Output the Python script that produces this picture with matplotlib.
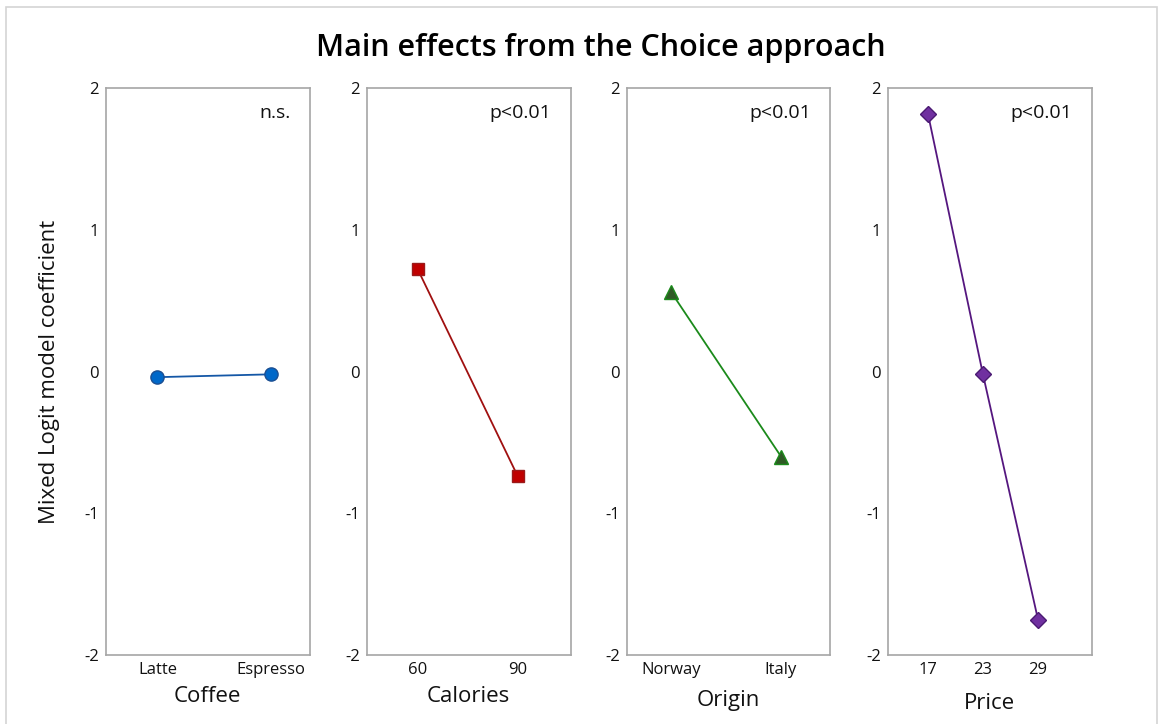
import matplotlib
matplotlib.use("Agg")
import matplotlib.pyplot as plt
from matplotlib.patches import Rectangle

# ---- data ----
coffee_levels = ["Latte", "Espresso"]
coffee_vals = [-0.04, -0.02]
calories_levels = [60, 90]
calories_vals = [0.72, -0.74]
origin_levels = ["Norway", "Italy"]
origin_vals = [0.56, -0.60]
price_levels = [17, 23, 29]
price_vals = [1.82, -0.02, -1.75]

factor_names = ["Coffee", "Calories", "Origin", "Price"]
signif = ["n.s.", "p<0.01", "p<0.01", "p<0.01"]
y_ticks = [-2, -1, 0, 1, 2]

plt.rcParams["font.family"] = ["Open Sans", "DejaVu Sans"]

W, H = 1163, 724
fig = plt.figure(figsize=(W / 100, H / 100), dpi=100)

# light figure border
fig.patches.append(Rectangle((6 / W, -0.05), (1157 - 6) / W, 1.05 - 7 / H,
                             transform=fig.transFigure, fill=False,
                             edgecolor="#d4d4d4", linewidth=1.2))

lefts_px = [106, 367, 627, 888]
width_px = 203.5
top_px, bottom_px = 88, 655

styles = [
    dict(marker="o", ms=9.5, color="#1457a6", mfc="#0068c9", mec="#1c4f92"),
    dict(marker="s", ms=8.5, color="#a01010", mfc="#c00000", mec="#9a1a1a"),
    dict(marker="^", ms=10, color="#1b8a1b", mfc="#2f5a25", mec="#1b8a1b"),
    dict(marker="D", ms=8, color="#55177f", mfc="#7030a0", mec="#4a1a72"),
]
xlims = [(-0.455, 1.343), (44.76, 105.8), (-0.402, 1.45), (12.65, 34.83)]
label_y = [-0.074, -0.074, -0.081, -0.085]

series = [
    (list(range(len(coffee_levels))), coffee_vals, coffee_levels),
    (calories_levels, calories_vals, [str(v) for v in calories_levels]),
    (list(range(len(origin_levels))), origin_vals, origin_levels),
    (price_levels, price_vals, [str(v) for v in price_levels]),
]

for i in range(4):
    ax = fig.add_axes([lefts_px[i] / W, 1 - bottom_px / H,
                       width_px / W, (bottom_px - top_px) / H])
    xs, ys, labels = series[i]
    st = styles[i]
    ax.plot(xs, ys, color=st["color"], lw=1.3, marker=st["marker"],
            markersize=st["ms"], markerfacecolor=st["mfc"],
            markeredgecolor=st["mec"], markeredgewidth=1.0, zorder=3)
    ax.set_xlim(*xlims[i])
    ax.set_ylim(-2, 2)
    ax.set_xticks(xs)
    ax.set_xticklabels(labels)
    ax.set_yticks(y_ticks)
    ax.set_yticklabels([str(t) for t in y_ticks])
    ax.tick_params(axis="both", length=0, labelsize=12, colors="#111111")
    ax.tick_params(axis="y", pad=5)
    ax.tick_params(axis="x", pad=5)
    for sp in ax.spines.values():
        sp.set_color("#a6a6a6")
        sp.set_linewidth(1.2)
    ax.set_xlabel(factor_names[i], fontsize=16, color="#111111")
    ax.xaxis.set_label_coords(0.5, label_y[i])
    ax.xaxis.label.set_va("center")
    ax.text(0.905, 0.956, signif[i], transform=ax.transAxes, ha="right",
            va="center", fontsize=14, color="#111111", weight="medium")

fig.text(601 / W, 1 - 48 / H, "Main effects from the Choice approach",
         ha="center", va="center", fontsize=22, color="#000000",
         weight="semibold")
fig.text(50 / W, 1 - 372 / H, "Mixed Logit model coefficient", rotation=90,
         ha="center", va="center", fontsize=16, color="#111111")

fig.savefig("out.png", dpi=100)
